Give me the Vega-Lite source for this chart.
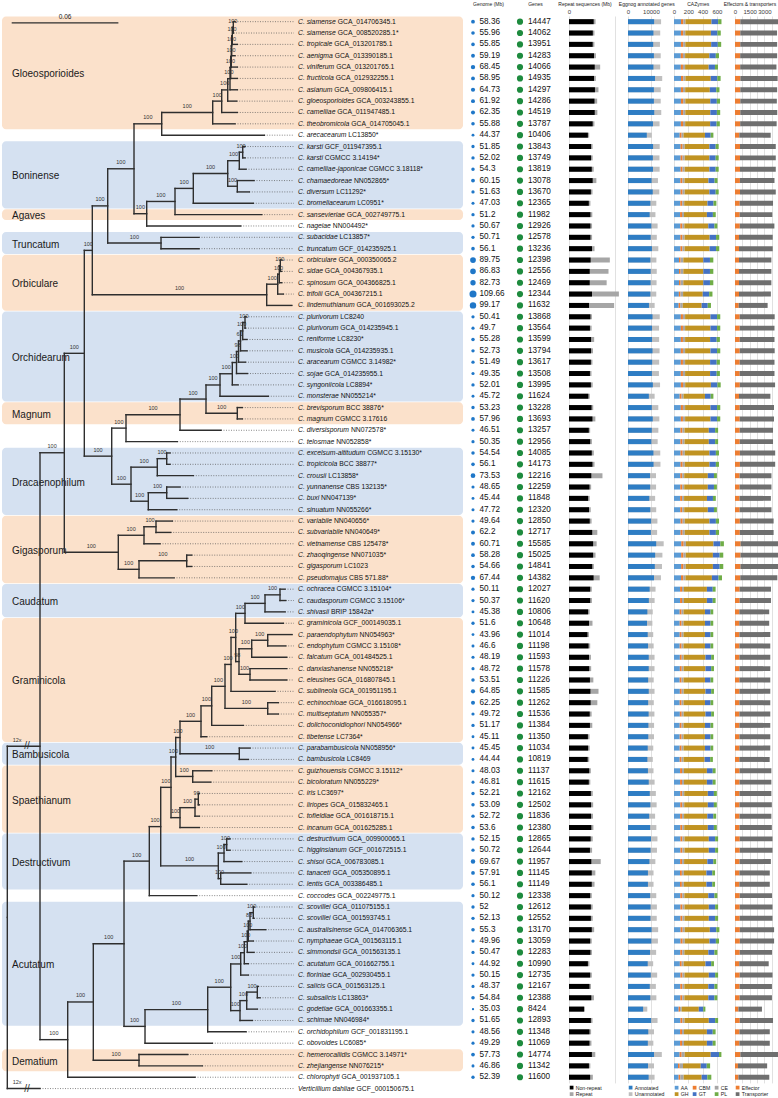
{
"$schema":"https://vega.github.io/schema/vega-lite/v6.json",
"padding":{"left":0,"top":1,"right":0,"bottom":0},
"background":"white",
"config":{"view":{"stroke":null},"font":"Liberation Sans",
"axis":{"domain":false,"ticks":false,"grid":true,"gridColor":"#D9D9D9","gridWidth":0.8,"labelFontSize":6,"labelColor":"#404040","labelPadding":1.5,"titleFontSize":5,"titleFontWeight":"normal","titleColor":"#222222","titlePadding":1.8,"labelOverlap":false,"labelFlush":false},
"legend":{"symbolType":"square","symbolSize":14,"labelFontSize":5.2,"offset":2,"padding":0,"rowPadding":0.5,"columnPadding":3,"labelOffset":1.5,"symbolStrokeWidth":0,"labelColor":"#222222"}},
"datasets":{
"clades":[
{"name":"Gloeosporioides","first":1,"last":10,"tone":"o"},
{"name":"Boninense","first":12,"last":17,"tone":"b"},
{"name":"Agaves","first":18,"last":18,"tone":"o"},
{"name":"Truncatum","first":20,"last":21,"tone":"b"},
{"name":"Orbiculare","first":22,"last":26,"tone":"o"},
{"name":"Orchidearum","first":27,"last":34,"tone":"b"},
{"name":"Magnum","first":35,"last":36,"tone":"o"},
{"name":"Dracaenophilum","first":39,"last":44,"tone":"b"},
{"name":"Gigasporum","first":45,"last":50,"tone":"o"},
{"name":"Caudatum","first":51,"last":53,"tone":"b"},
{"name":"Graminicola","first":54,"last":64,"tone":"o"},
{"name":"Bambusicola","first":65,"last":66,"tone":"b"},
{"name":"Spaethianum","first":67,"last":72,"tone":"o"},
{"name":"Destructivum","first":73,"last":77,"tone":"b"},
{"name":"Acutatum","first":79,"last":89,"tone":"b"},
{"name":"Dematium","first":92,"last":93,"tone":"o"}],
"tree":[
{"id":"root","x":0,"px":0,"y":79.92,"lo":64.84,"hi":95},
{"id":"N40","x":18.39,"px":0,"y":64.84,"lo":38.98,"hi":90.69},
{"id":"t95","x":18.39,"px":0,"y":95},
{"id":"N64","x":32.06,"px":18.39,"y":38.98,"lo":30.22,"hi":47.75,"bs":100},
{"id":"N67","x":33.97,"px":18.39,"y":90.69,"lo":87.37,"hi":94,"bs":100},
{"id":"N84","x":43.31,"px":32.06,"y":30.22,"lo":21.15,"hi":39.28,"bs":100},
{"id":"Ng5","x":62.43,"px":32.06,"y":47.75,"lo":46.25,"hi":49.25,"bs":100},
{"id":"N92","x":47.81,"px":43.31,"y":21.15,"lo":17.23,"hi":25.06,"bs":100},
{"id":"N111b","x":58.72,"px":43.31,"y":39.28,"lo":36.81,"hi":41.75,"bs":100},
{"id":"N107","x":56.47,"px":47.81,"y":17.23,"lo":13.96,"hi":20.5,"bs":100},
{"id":"No4","x":145.89,"px":47.81,"y":25.06,"lo":24.13,"hi":26,"bs":100},
{"id":"N134","x":71.26,"px":56.47,"y":13.96,"lo":10.0,"hi":17.92,"bs":100},
{"id":"Nt","x":86.45,"px":56.47,"y":20.5,"lo":20,"hi":21,"bs":100},
{"id":"N111","x":86.84,"px":71.26,"y":10.0,"lo":9.0,"hi":11,"bs":100},
{"id":"Nb7","x":78.40,"px":71.26,"y":17.92,"lo":16.84,"hi":19,"bs":100},
{"id":"N110","x":115.52,"px":86.84,"y":9.0,"lo":8.0,"hi":10,"bs":100},
{"id":"t11","x":144.54,"px":86.84,"y":11},
{"id":"N19","x":120.58,"px":115.52,"y":8.0,"lo":7.01,"hi":9,"bs":100},
{"id":"t10","x":128.06,"px":115.52,"y":10},
{"id":"N18","x":123.96,"px":120.58,"y":7.01,"lo":6.02,"hi":8,"bs":100},
{"id":"t9","x":129.36,"px":120.58,"y":9},
{"id":"N17","x":125.25,"px":123.96,"y":6.02,"lo":5.03,"hi":7,"bs":100},
{"id":"t8","x":129.02,"px":123.96,"y":8},
{"id":"N16","x":125.65,"px":125.25,"y":5.03,"lo":4.06,"hi":6,"bs":100},
{"id":"t7","x":129.36,"px":125.25,"y":7},
{"id":"N15","x":125.98,"px":125.65,"y":4.06,"lo":3.13,"hi":5,"bs":100},
{"id":"t6","x":129.36,"px":125.65,"y":6},
{"id":"N14","x":126.21,"px":125.98,"y":3.13,"lo":2.25,"hi":4,"bs":100},
{"id":"t5","x":129.36,"px":125.98,"y":5},
{"id":"N13","x":126.55,"px":126.21,"y":2.25,"lo":1.5,"hi":3,"bs":100},
{"id":"t4","x":128.06,"px":126.21,"y":4},
{"id":"N12","x":127.11,"px":126.55,"y":1.5,"lo":1,"hi":2,"bs":100},
{"id":"t3","x":129.36,"px":126.55,"y":3},
{"id":"t1","x":128.06,"px":127.11,"y":1},
{"id":"t2","x":127.22,"px":127.11,"y":2},
{"id":"Nb6","x":94.32,"px":78.40,"y":16.84,"lo":15.69,"hi":18,"bs":100},
{"id":"t19","x":131.27,"px":78.40,"y":19},
{"id":"Nb5","x":104.61,"px":94.32,"y":15.69,"lo":14.38,"hi":17,"bs":100},
{"id":"t18","x":143.08,"px":94.32,"y":18},
{"id":"Nb4","x":123.96,"px":104.61,"y":14.38,"lo":13.25,"hi":15.5,"bs":100},
{"id":"t17","x":138.36,"px":104.61,"y":17},
{"id":"Nb2","x":130.48,"px":123.96,"y":13.25,"lo":12.5,"hi":14,"bs":100},
{"id":"Nb3","x":129.36,"px":123.96,"y":15.5,"lo":15,"hi":16,"bs":100},
{"id":"Nb1","x":132.40,"px":130.48,"y":12.5,"lo":12,"hi":13,"bs":100},
{"id":"t14","x":134.25,"px":130.48,"y":14},
{"id":"t12","x":133.69,"px":132.40,"y":12},
{"id":"t13","x":133.69,"px":132.40,"y":13},
{"id":"t15","x":138.75,"px":129.36,"y":15},
{"id":"t16","x":136.11,"px":129.36,"y":16},
{"id":"t20","x":107.82,"px":86.45,"y":20},
{"id":"t21","x":107.82,"px":86.45,"y":21},
{"id":"No3","x":152.08,"px":145.89,"y":24.13,"lo":23.25,"hi":25,"bs":100},
{"id":"t26","x":159.96,"px":145.89,"y":26},
{"id":"No2","x":152.98,"px":152.08,"y":23.25,"lo":22.5,"hi":24,"bs":100},
{"id":"t25","x":155.23,"px":152.08,"y":25},
{"id":"No1","x":153.54,"px":152.98,"y":22.5,"lo":22,"hi":23,"bs":100},
{"id":"t24","x":154.33,"px":152.98,"y":24},
{"id":"t22","x":154.33,"px":153.54,"y":22},
{"id":"t23","x":154.33,"px":153.54,"y":23},
{"id":"N126","x":66.76,"px":58.72,"y":36.81,"lo":35.63,"hi":38,"bs":100},
{"id":"N131","x":69.57,"px":58.72,"y":41.75,"lo":40.25,"hi":43.25,"bs":100},
{"id":"N180","x":97.13,"px":66.76,"y":35.63,"lo":34.25,"hi":37,"bs":100},
{"id":"t38","x":95.61,"px":66.76,"y":38},
{"id":"N206","x":111.75,"px":97.13,"y":34.25,"lo":33.01,"hi":35.5,"bs":100},
{"id":"t37","x":120.19,"px":97.13,"y":37},
{"id":"Or7","x":119.63,"px":111.75,"y":33.01,"lo":32.02,"hi":34,"bs":100},
{"id":"Nm","x":129.36,"px":111.75,"y":35.5,"lo":35,"hi":36,"bs":100},
{"id":"t35","x":132.17,"px":129.36,"y":35},
{"id":"t36","x":132.17,"px":129.36,"y":36},
{"id":"Or6","x":126.55,"px":119.63,"y":32.02,"lo":31.03,"hi":33,"bs":100},
{"id":"t34","x":146.79,"px":119.63,"y":34},
{"id":"Or5","x":128.91,"px":126.55,"y":31.03,"lo":30.06,"hi":32,"bs":100},
{"id":"t33","x":129.75,"px":126.55,"y":33},
{"id":"Or4","x":130.03,"px":128.91,"y":30.06,"lo":29.13,"hi":31,"bs":98},
{"id":"t32","x":135.10,"px":128.91,"y":32},
{"id":"Or3","x":131.16,"px":130.03,"y":29.13,"lo":28.25,"hi":30,"bs":61},
{"id":"t31","x":133.97,"px":130.03,"y":31},
{"id":"Or2","x":132.40,"px":131.16,"y":28.25,"lo":27.5,"hi":29,"bs":100},
{"id":"t30","x":134.81,"px":131.16,"y":30},
{"id":"Or1","x":133.69,"px":132.40,"y":27.5,"lo":27,"hi":28,"bs":100},
{"id":"t29","x":134.81,"px":132.40,"y":29},
{"id":"t27","x":134.25,"px":133.69,"y":27},
{"id":"t28","x":133.97,"px":133.69,"y":28},
{"id":"Nd2","x":84.36,"px":69.57,"y":40.25,"lo":39.5,"hi":41,"bs":100},
{"id":"Nd4","x":79.30,"px":69.57,"y":43.25,"lo":42.5,"hi":44,"bs":100},
{"id":"Nd1","x":89.65,"px":84.36,"y":39.5,"lo":39,"hi":40,"bs":100},
{"id":"t41","x":104.61,"px":84.36,"y":41},
{"id":"t39","x":91.51,"px":89.65,"y":39},
{"id":"t40","x":91.51,"px":89.65,"y":40},
{"id":"Nd3","x":89.65,"px":79.30,"y":42.5,"lo":42,"hi":43,"bs":100},
{"id":"t44","x":95.28,"px":79.30,"y":44},
{"id":"t42","x":97.13,"px":89.65,"y":42},
{"id":"t43","x":101.46,"px":89.65,"y":43},
{"id":"Ng2","x":76.88,"px":62.43,"y":46.25,"lo":45.5,"hi":47,"bs":100},
{"id":"Ng4","x":74.07,"px":62.43,"y":49.25,"lo":48.5,"hi":50,"bs":100},
{"id":"Ng1","x":83.63,"px":76.88,"y":45.5,"lo":45,"hi":46,"bs":100},
{"id":"t47","x":85.88,"px":76.88,"y":47},
{"id":"t45","x":92.80,"px":83.63,"y":45},
{"id":"t46","x":91.90,"px":83.63,"y":46},
{"id":"Ng3","x":100.90,"px":74.07,"y":48.5,"lo":48,"hi":49,"bs":100},
{"id":"t50","x":93.76,"px":74.07,"y":50},
{"id":"t48","x":103.71,"px":100.90,"y":48},
{"id":"t49","x":103.71,"px":100.90,"y":49},
{"id":"N93","x":48.37,"px":33.97,"y":87.37,"lo":82.24,"hi":92.5,"bs":100},
{"id":"t94","x":105.57,"px":33.97,"y":94},
{"id":"N124","x":65.64,"px":48.37,"y":82.24,"lo":74.96,"hi":89.52,"bs":100},
{"id":"Ndm","x":74.07,"px":48.37,"y":92.5,"lo":92,"hi":93,"bs":100},
{"id":"t92","x":101.46,"px":74.07,"y":92},
{"id":"t93","x":109.67,"px":74.07,"y":93},
{"id":"N149","x":79.87,"px":65.64,"y":74.96,"lo":71.92,"hi":78,"bs":100},
{"id":"N145","x":77.45,"px":65.64,"y":89.52,"lo":88.04,"hi":91,"bs":100},
{"id":"N160","x":86.28,"px":79.87,"y":71.92,"lo":68.46,"hi":75.38,"bs":100},
{"id":"t78","x":106.52,"px":79.87,"y":78},
{"id":"N513","x":92.07,"px":86.28,"y":68.46,"lo":65.79,"hi":71.13,"bs":100},
{"id":"Nde4","x":118.67,"px":86.28,"y":75.38,"lo":74.25,"hi":76.5,"bs":100},
{"id":"N527","x":94.71,"px":92.07,"y":65.79,"lo":64.07,"hi":67.5,"bs":100},
{"id":"Ns4","x":97.13,"px":92.07,"y":71.13,"lo":70.25,"hi":72,"bs":100},
{"id":"N540","x":97.13,"px":94.71,"y":64.07,"lo":62.64,"hi":65.5,"bs":100},
{"id":"Ns1","x":104.27,"px":94.71,"y":67.5,"lo":67,"hi":68,"bs":100},
{"id":"t67","x":114.96,"px":104.27,"y":67},
{"id":"t68","x":114.40,"px":104.27,"y":68},
{"id":"Ns3","x":105.57,"px":97.13,"y":70.25,"lo":69.5,"hi":71,"bs":100},
{"id":"t72","x":107.99,"px":97.13,"y":72},
{"id":"Ns2","x":107.42,"px":105.57,"y":69.5,"lo":69,"hi":70,"bs":99},
{"id":"t71","x":107.99,"px":105.57,"y":71},
{"id":"t69","x":107.99,"px":107.42,"y":69},
{"id":"t70","x":107.99,"px":107.42,"y":70},
{"id":"N603","x":108.94,"px":97.13,"y":62.64,"lo":61.28,"hi":64,"bs":100},
{"id":"Nbam","x":130.48,"px":97.13,"y":65.5,"lo":65,"hi":66,"bs":100},
{"id":"t65","x":136.50,"px":130.48,"y":65},
{"id":"t66","x":135.55,"px":130.48,"y":66},
{"id":"N635","x":114.96,"px":108.94,"y":61.28,"lo":59.56,"hi":63,"bs":100},
{"id":"t64","x":112.15,"px":108.94,"y":64},
{"id":"N675","x":122.44,"px":114.96,"y":59.56,"lo":57.63,"hi":61.5,"bs":100},
{"id":"t63","x":132.73,"px":114.96,"y":63},
{"id":"N693","x":125.82,"px":122.44,"y":57.63,"lo":55.25,"hi":60,"bs":100},
{"id":"Nh","x":146.46,"px":122.44,"y":61.5,"lo":61,"hi":62,"bs":100},
{"id":"t61","x":152.42,"px":146.46,"y":61},
{"id":"t62","x":152.42,"px":146.46,"y":62},
{"id":"N707","x":128.46,"px":125.82,"y":55.25,"lo":53.13,"hi":57.38,"bs":100},
{"id":"t60","x":150.56,"px":125.82,"y":60},
{"id":"C","x":133.69,"px":128.46,"y":53.13,"lo":52.25,"hi":54,"bs":100},
{"id":"G","x":130.31,"px":128.46,"y":57.38,"lo":56.25,"hi":58.5,"bs":98},
{"id":"B","x":144.94,"px":133.69,"y":52.25,"lo":51.5,"hi":53,"bs":100},
{"id":"t54","x":155.23,"px":133.69,"y":54},
{"id":"A","x":153.37,"px":144.94,"y":51.5,"lo":51,"hi":52,"bs":100},
{"id":"t53","x":156.19,"px":144.94,"y":53},
{"id":"t51","x":156.19,"px":153.37,"y":51},
{"id":"t52","x":156.58,"px":153.37,"y":52},
{"id":"E","x":137.46,"px":130.31,"y":56.25,"lo":55.5,"hi":57,"bs":100},
{"id":"F","x":136.50,"px":130.31,"y":58.5,"lo":58,"hi":59,"bs":100},
{"id":"D","x":146.46,"px":137.46,"y":55.5,"lo":55,"hi":56,"bs":100},
{"id":"t57","x":157.14,"px":137.46,"y":57},
{"id":"t55","x":160.12,"px":146.46,"y":55},
{"id":"t56","x":156.58,"px":146.46,"y":56},
{"id":"t58","x":157.14,"px":136.50,"y":58},
{"id":"t59","x":157.14,"px":136.50,"y":59},
{"id":"Nde2","x":121.88,"px":118.67,"y":74.25,"lo":73.5,"hi":75,"bs":100},
{"id":"Nde3","x":120.02,"px":118.67,"y":76.5,"lo":76,"hi":77,"bs":100},
{"id":"Nde1","x":123.40,"px":121.88,"y":73.5,"lo":73,"hi":74,"bs":100},
{"id":"t75","x":131.83,"px":121.88,"y":75},
{"id":"t73","x":125.25,"px":123.40,"y":73},
{"id":"t74","x":125.25,"px":123.40,"y":74},
{"id":"t76","x":136.90,"px":120.02,"y":76},
{"id":"t77","x":134.65,"px":120.02,"y":77},
{"id":"N207","x":112.71,"px":77.45,"y":88.04,"lo":86.07,"hi":90,"bs":100},
{"id":"t91","x":115.30,"px":77.45,"y":91},
{"id":"Na10","x":125.65,"px":112.71,"y":86.07,"lo":84.02,"hi":88.13,"bs":100},
{"id":"t90","x":134.25,"px":112.71,"y":90},
{"id":"Na6","x":131.27,"px":125.65,"y":84.02,"lo":83.03,"hi":85,"bs":100},
{"id":"Na9","x":130.88,"px":125.65,"y":88.13,"lo":87.25,"hi":89,"bs":100},
{"id":"Na5","x":133.30,"px":131.27,"y":83.03,"lo":82.06,"hi":84,"bs":100},
{"id":"t85","x":135.55,"px":131.27,"y":85},
{"id":"Na4","x":134.98,"px":133.30,"y":82.06,"lo":81.13,"hi":83,"bs":100},
{"id":"t84","x":135.55,"px":133.30,"y":84},
{"id":"Na3","x":135.55,"px":134.98,"y":81.13,"lo":80.25,"hi":82,"bs":100},
{"id":"t83","x":138.75,"px":134.98,"y":83},
{"id":"Na2","x":136.50,"px":135.55,"y":80.25,"lo":79.5,"hi":81,"bs":83},
{"id":"t82","x":138.36,"px":135.55,"y":82},
{"id":"Na1","x":138.36,"px":136.50,"y":79.5,"lo":79,"hi":80,"bs":100},
{"id":"t81","x":145.33,"px":136.50,"y":81},
{"id":"t79","x":138.75,"px":138.36,"y":79},
{"id":"t80","x":138.75,"px":138.36,"y":80},
{"id":"Na8","x":134.65,"px":130.88,"y":87.25,"lo":86.5,"hi":88,"bs":100},
{"id":"t89","x":137.80,"px":130.88,"y":89},
{"id":"Na7","x":140.61,"px":134.65,"y":86.5,"lo":86,"hi":87,"bs":100},
{"id":"t88","x":140.61,"px":134.65,"y":88},
{"id":"t86","x":141.17,"px":140.61,"y":86},
{"id":"t87","x":142.13,"px":140.61,"y":87}],
"taxa":[
{"i":1,"sp":"C. siamense","st":"GCA_014706345.1","g":58.36,"n":14447,"nr":54.2,"ann":11400,"AA":98,"CBM":32,"CE":30,"GH":364,"GT":93,"PL":47,"Effector":540,"Transporter":3850},
{"i":2,"sp":"C. siamense","st":"GCA_008520285.1*","g":55.96,"n":14062,"nr":52.3,"ann":11100,"AA":97,"CBM":31,"CE":30,"GH":358,"GT":92,"PL":46,"Effector":540,"Transporter":3750},
{"i":3,"sp":"C. tropicale","st":"GCA_013201785.1","g":55.85,"n":13951,"nr":52.0,"ann":11000,"AA":97,"CBM":31,"CE":30,"GH":362,"GT":93,"PL":47,"Effector":540,"Transporter":3760},
{"i":4,"sp":"C. aenigma","st":"GCA_013390185.1","g":59.19,"n":14283,"nr":55.0,"ann":11300,"AA":95,"CBM":30,"CE":30,"GH":340,"GT":90,"PL":44,"Effector":530,"Transporter":3770},
{"i":5,"sp":"C. viniferum","st":"GCA_013201765.1","g":68.45,"n":14066,"nr":56.5,"ann":11100,"AA":95,"CBM":30,"CE":30,"GH":330,"GT":88,"PL":42,"Effector":530,"Transporter":3700},
{"i":6,"sp":"C. fructicola","st":"GCA_012932255.1","g":58.95,"n":14935,"nr":55.0,"ann":11800,"AA":98,"CBM":31,"CE":30,"GH":355,"GT":92,"PL":46,"Effector":550,"Transporter":3800},
{"i":7,"sp":"C. asianum","st":"GCA_009806415.1","g":64.73,"n":14297,"nr":57.0,"ann":11300,"AA":96,"CBM":30,"CE":30,"GH":345,"GT":90,"PL":45,"Effector":540,"Transporter":3760},
{"i":8,"sp":"C. gloeosporioides","st":"GCA_003243855.1","g":61.92,"n":14286,"nr":56.0,"ann":11300,"AA":97,"CBM":31,"CE":30,"GH":350,"GT":91,"PL":45,"Effector":540,"Transporter":3730},
{"i":9,"sp":"C. camelliae","st":"GCA_011947485.1","g":62.35,"n":14519,"nr":56.5,"ann":11450,"AA":97,"CBM":31,"CE":30,"GH":350,"GT":92,"PL":46,"Effector":540,"Transporter":3770},
{"i":10,"sp":"C. theobromicola","st":"GCA_014705045.1","g":55.88,"n":13787,"nr":52.0,"ann":10900,"AA":96,"CBM":30,"CE":30,"GH":350,"GT":90,"PL":45,"Effector":530,"Transporter":3720},
{"i":11,"sp":"C. arecacearum","st":"LC13850*","g":44.37,"n":10406,"nr":41.5,"ann":8200,"AA":80,"CBM":26,"CE":27,"GH":300,"GT":80,"PL":38,"Effector":440,"Transporter":3200},
{"i":12,"sp":"C. karsti","st":"GCF_011947395.1","g":51.85,"n":13843,"nr":48.5,"ann":10950,"AA":92,"CBM":28,"CE":30,"GH":345,"GT":88,"PL":42,"Effector":510,"Transporter":3650},
{"i":13,"sp":"C. karsti","st":"CGMCC 3.14194*","g":52.02,"n":13749,"nr":48.5,"ann":10850,"AA":92,"CBM":28,"CE":30,"GH":345,"GT":88,"PL":42,"Effector":510,"Transporter":3650},
{"i":14,"sp":"C. camelliae-japonicae","st":"CGMCC 3.18118*","g":54.3,"n":13819,"nr":50.0,"ann":10900,"AA":92,"CBM":28,"CE":30,"GH":345,"GT":88,"PL":42,"Effector":510,"Transporter":3650},
{"i":15,"sp":"C. chamaedoreae","st":"NN052865*","g":60.15,"n":13078,"nr":52.0,"ann":10300,"AA":90,"CBM":28,"CE":29,"GH":335,"GT":86,"PL":41,"Effector":500,"Transporter":3530},
{"i":16,"sp":"C. diversum","st":"LC11292*","g":51.63,"n":13670,"nr":48.0,"ann":10800,"AA":92,"CBM":28,"CE":30,"GH":345,"GT":88,"PL":42,"Effector":510,"Transporter":3650},
{"i":17,"sp":"C. bromeliacearum","st":"LC0951*","g":47.03,"n":12365,"nr":43.5,"ann":9750,"AA":88,"CBM":27,"CE":28,"GH":325,"GT":85,"PL":40,"Effector":480,"Transporter":3400},
{"i":18,"sp":"C. sansevieriae","st":"GCA_002749775.1","g":51.2,"n":11982,"nr":47.0,"ann":9450,"AA":85,"CBM":27,"CE":28,"GH":320,"GT":84,"PL":40,"Effector":480,"Transporter":3330},
{"i":19,"sp":"C. nageiae","st":"NN004492*","g":50.67,"n":12926,"nr":47.0,"ann":10200,"AA":88,"CBM":28,"CE":29,"GH":335,"GT":86,"PL":41,"Effector":490,"Transporter":3530},
{"i":20,"sp":"C. subacidae","st":"LC13857*","g":50.71,"n":12578,"nr":47.0,"ann":9900,"AA":90,"CBM":28,"CE":30,"GH":350,"GT":90,"PL":45,"Effector":410,"Transporter":3440},
{"i":21,"sp":"C. truncatum","st":"GCF_014235925.1","g":56.1,"n":13236,"nr":50.5,"ann":10450,"AA":90,"CBM":28,"CE":30,"GH":350,"GT":90,"PL":45,"Effector":410,"Transporter":3440},
{"i":22,"sp":"C. orbiculare","st":"GCA_000350065.2","g":89.75,"n":12398,"nr":47.5,"ann":9750,"AA":70,"CBM":23,"CE":37,"GH":280,"GT":93,"PL":47,"Effector":410,"Transporter":3300},
{"i":23,"sp":"C. sidae","st":"GCA_004367935.1","g":86.83,"n":12556,"nr":45.5,"ann":9900,"AA":70,"CBM":23,"CE":37,"GH":280,"GT":93,"PL":47,"Effector":410,"Transporter":3300},
{"i":24,"sp":"C. spinosum","st":"GCA_004366825.1","g":82.73,"n":12469,"nr":45.5,"ann":9850,"AA":70,"CBM":23,"CE":37,"GH":280,"GT":93,"PL":47,"Effector":410,"Transporter":3300},
{"i":25,"sp":"C. trifolii","st":"GCA_004367215.1","g":109.66,"n":12344,"nr":50.5,"ann":9750,"AA":68,"CBM":23,"CE":36,"GH":275,"GT":90,"PL":46,"Effector":410,"Transporter":3250},
{"i":26,"sp":"C. lindemuthianum","st":"GCA_001693025.2","g":99.17,"n":11632,"nr":44.0,"ann":9150,"AA":65,"CBM":22,"CE":35,"GH":265,"GT":85,"PL":45,"Effector":380,"Transporter":2950},
{"i":27,"sp":"C. plurivorum","st":"LC8240","g":50.41,"n":13868,"nr":47.0,"ann":10700,"AA":95,"CBM":30,"CE":30,"GH":355,"GT":92,"PL":45,"Effector":480,"Transporter":3570},
{"i":28,"sp":"C. plurivorum","st":"GCA_014235945.1","g":49.7,"n":13564,"nr":46.0,"ann":10500,"AA":95,"CBM":30,"CE":30,"GH":355,"GT":92,"PL":45,"Effector":480,"Transporter":3550},
{"i":29,"sp":"C. reniforme","st":"LC8230*","g":55.28,"n":13599,"nr":48.5,"ann":10500,"AA":95,"CBM":30,"CE":30,"GH":350,"GT":92,"PL":45,"Effector":480,"Transporter":3550},
{"i":30,"sp":"C. musicola","st":"GCA_014235935.1","g":52.73,"n":13794,"nr":48.5,"ann":10700,"AA":95,"CBM":30,"CE":30,"GH":355,"GT":92,"PL":45,"Effector":480,"Transporter":3570},
{"i":31,"sp":"C. aracearum","st":"CGMCC 3.14982*","g":51.49,"n":13617,"nr":48.0,"ann":10550,"AA":95,"CBM":30,"CE":30,"GH":350,"GT":92,"PL":45,"Effector":480,"Transporter":3550},
{"i":32,"sp":"C. sojae","st":"GCA_014235955.1","g":49.35,"n":13508,"nr":46.0,"ann":10450,"AA":95,"CBM":30,"CE":30,"GH":350,"GT":92,"PL":45,"Effector":480,"Transporter":3550},
{"i":33,"sp":"C. syngoniicola","st":"LC8894*","g":52.01,"n":13995,"nr":48.0,"ann":10850,"AA":96,"CBM":30,"CE":30,"GH":360,"GT":92,"PL":45,"Effector":490,"Transporter":3600},
{"i":34,"sp":"C. monsterae","st":"NN055214*","g":45.72,"n":11624,"nr":42.5,"ann":9100,"AA":80,"CBM":26,"CE":27,"GH":300,"GT":80,"PL":38,"Effector":410,"Transporter":3200},
{"i":35,"sp":"C. brevisporum","st":"BCC 38876*","g":53.23,"n":13228,"nr":49.5,"ann":10400,"AA":95,"CBM":30,"CE":30,"GH":355,"GT":92,"PL":45,"Effector":480,"Transporter":3500},
{"i":36,"sp":"C. magnum","st":"CGMCC 3.17616","g":57.96,"n":13693,"nr":51.5,"ann":10800,"AA":95,"CBM":30,"CE":30,"GH":355,"GT":92,"PL":45,"Effector":480,"Transporter":3500},
{"i":37,"sp":"C. diversisporum","st":"NN072578*","g":46.51,"n":13257,"nr":43.5,"ann":10400,"AA":90,"CBM":28,"CE":29,"GH":340,"GT":88,"PL":42,"Effector":480,"Transporter":3400},
{"i":38,"sp":"C. telosmae","st":"NN052858*","g":50.35,"n":12956,"nr":46.5,"ann":10200,"AA":90,"CBM":28,"CE":29,"GH":340,"GT":88,"PL":42,"Effector":480,"Transporter":3400},
{"i":39,"sp":"C. excelsum-altitudum","st":"CGMCC 3.15130*","g":54.54,"n":14085,"nr":50.0,"ann":11100,"AA":92,"CBM":29,"CE":30,"GH":345,"GT":90,"PL":43,"Effector":500,"Transporter":3600},
{"i":40,"sp":"C. tropicicola","st":"BCC 38877*","g":56.1,"n":14173,"nr":51.5,"ann":11150,"AA":92,"CBM":29,"CE":30,"GH":345,"GT":90,"PL":43,"Effector":500,"Transporter":3600},
{"i":41,"sp":"C. crousii","st":"LC13858*","g":73.53,"n":12216,"nr":49.0,"ann":9600,"AA":88,"CBM":27,"CE":28,"GH":330,"GT":86,"PL":41,"Effector":470,"Transporter":3250},
{"i":42,"sp":"C. yunnanense","st":"CBS 132135*","g":48.65,"n":12259,"nr":45.0,"ann":9650,"AA":88,"CBM":27,"CE":28,"GH":330,"GT":86,"PL":41,"Effector":470,"Transporter":3250},
{"i":43,"sp":"C. buxi","st":"NN047139*","g":45.44,"n":11848,"nr":42.0,"ann":9300,"AA":86,"CBM":27,"CE":28,"GH":320,"GT":84,"PL":40,"Effector":460,"Transporter":3200},
{"i":44,"sp":"C. sinuatum","st":"NN055266*","g":47.72,"n":12320,"nr":44.0,"ann":9700,"AA":88,"CBM":27,"CE":28,"GH":330,"GT":86,"PL":41,"Effector":470,"Transporter":3250},
{"i":45,"sp":"C. variabile","st":"NN040656*","g":49.64,"n":12850,"nr":45.5,"ann":10100,"AA":92,"CBM":29,"CE":30,"GH":345,"GT":90,"PL":44,"Effector":490,"Transporter":3450},
{"i":46,"sp":"C. subvariabile","st":"NN040649*","g":62.2,"n":12717,"nr":51.0,"ann":10000,"AA":92,"CBM":29,"CE":30,"GH":345,"GT":90,"PL":44,"Effector":490,"Transporter":3450},
{"i":47,"sp":"C. vietnamense","st":"CBS 125478*","g":60.71,"n":15585,"nr":53.0,"ann":12300,"AA":102,"CBM":33,"CE":32,"GH":385,"GT":96,"PL":50,"Effector":570,"Transporter":3900},
{"i":48,"sp":"C. zhaoqingense","st":"NN071035*","g":58.28,"n":15025,"nr":53.0,"ann":11850,"AA":100,"CBM":32,"CE":32,"GH":380,"GT":95,"PL":50,"Effector":560,"Transporter":3850},
{"i":49,"sp":"C. gigasporum","st":"LC1023","g":54.66,"n":14841,"nr":51.0,"ann":11700,"AA":100,"CBM":32,"CE":32,"GH":380,"GT":95,"PL":50,"Effector":560,"Transporter":3850},
{"i":50,"sp":"C. pseudomajus","st":"CBS 571.88*","g":67.44,"n":14382,"nr":54.0,"ann":11350,"AA":98,"CBM":31,"CE":31,"GH":370,"GT":93,"PL":48,"Effector":540,"Transporter":3780},
{"i":51,"sp":"C. ochracea","st":"CGMCC 3.15104*","g":50.11,"n":12027,"nr":46.5,"ann":9450,"AA":85,"CBM":27,"CE":28,"GH":320,"GT":82,"PL":40,"Effector":470,"Transporter":3200},
{"i":52,"sp":"C. caudasporum","st":"CGMCC 3.15106*","g":50.37,"n":11620,"nr":46.5,"ann":9100,"AA":85,"CBM":27,"CE":28,"GH":320,"GT":82,"PL":40,"Effector":470,"Transporter":3200},
{"i":53,"sp":"C. shivasii","st":"BRIP 15842a*","g":45.38,"n":10806,"nr":42.0,"ann":8450,"AA":80,"CBM":26,"CE":27,"GH":300,"GT":78,"PL":38,"Effector":440,"Transporter":3050},
{"i":54,"sp":"C. graminicola","st":"GCF_000149035.1","g":51.6,"n":10648,"nr":44.0,"ann":8300,"AA":80,"CBM":26,"CE":27,"GH":300,"GT":78,"PL":38,"Effector":440,"Transporter":3050},
{"i":55,"sp":"C. paraendophytum","st":"NN054963*","g":43.96,"n":11014,"nr":40.5,"ann":8600,"AA":80,"CBM":26,"CE":27,"GH":300,"GT":78,"PL":38,"Effector":450,"Transporter":3150},
{"i":56,"sp":"C. endophytum","st":"CGMCC 3.15108*","g":46.6,"n":11198,"nr":43.0,"ann":8750,"AA":80,"CBM":26,"CE":27,"GH":300,"GT":78,"PL":38,"Effector":450,"Transporter":3150},
{"i":57,"sp":"C. falcatum","st":"GCA_001484525.1","g":48.19,"n":11593,"nr":44.0,"ann":9050,"AA":82,"CBM":26,"CE":27,"GH":305,"GT":80,"PL":39,"Effector":450,"Transporter":3150},
{"i":58,"sp":"C. danxiashanense","st":"NN055218*","g":48.72,"n":11578,"nr":44.5,"ann":9050,"AA":82,"CBM":26,"CE":27,"GH":305,"GT":80,"PL":39,"Effector":450,"Transporter":3150},
{"i":59,"sp":"C. eleusines","st":"GCA_016807845.1","g":53.51,"n":11226,"nr":46.0,"ann":8800,"AA":80,"CBM":26,"CE":27,"GH":300,"GT":78,"PL":38,"Effector":450,"Transporter":3150},
{"i":60,"sp":"C. sublineola","st":"GCA_001951195.1","g":64.85,"n":11585,"nr":47.0,"ann":9050,"AA":82,"CBM":26,"CE":27,"GH":305,"GT":80,"PL":39,"Effector":450,"Transporter":3150},
{"i":61,"sp":"C. echinochloae","st":"GCA_016618095.1","g":62.25,"n":11262,"nr":47.5,"ann":8800,"AA":80,"CBM":26,"CE":27,"GH":300,"GT":78,"PL":38,"Effector":450,"Transporter":3150},
{"i":62,"sp":"C. multiseptatum","st":"NN055357*","g":49.72,"n":11536,"nr":45.5,"ann":9000,"AA":82,"CBM":26,"CE":27,"GH":305,"GT":80,"PL":39,"Effector":450,"Transporter":3150},
{"i":63,"sp":"C. dolichoconidiophori","st":"NN054966*","g":51.17,"n":11384,"nr":46.0,"ann":8900,"AA":80,"CBM":26,"CE":27,"GH":300,"GT":78,"PL":38,"Effector":450,"Transporter":3150},
{"i":64,"sp":"C. tibetense","st":"LC7364*","g":45.11,"n":11350,"nr":41.5,"ann":8850,"AA":80,"CBM":26,"CE":27,"GH":300,"GT":78,"PL":38,"Effector":450,"Transporter":3150},
{"i":65,"sp":"C. parabambusicola","st":"NN058956*","g":45.45,"n":11034,"nr":42.0,"ann":8600,"AA":80,"CBM":26,"CE":27,"GH":300,"GT":78,"PL":38,"Effector":450,"Transporter":3150},
{"i":66,"sp":"C. bambusicola","st":"LC8469","g":44.44,"n":10819,"nr":41.0,"ann":8450,"AA":80,"CBM":26,"CE":27,"GH":295,"GT":78,"PL":38,"Effector":440,"Transporter":3100},
{"i":67,"sp":"C. guizhouensis","st":"CGMCC 3.15112*","g":48.03,"n":11137,"nr":44.5,"ann":8700,"AA":85,"CBM":27,"CE":28,"GH":320,"GT":82,"PL":40,"Effector":460,"Transporter":3250},
{"i":68,"sp":"C. bicoloratum","st":"NN055229*","g":46.81,"n":11615,"nr":43.5,"ann":9050,"AA":85,"CBM":27,"CE":28,"GH":320,"GT":82,"PL":40,"Effector":460,"Transporter":3250},
{"i":69,"sp":"C. iris","st":"LC3697*","g":52.21,"n":12162,"nr":48.0,"ann":9500,"AA":88,"CBM":27,"CE":28,"GH":330,"GT":85,"PL":41,"Effector":460,"Transporter":3250},
{"i":70,"sp":"C. liriopes","st":"GCA_015832465.1","g":53.09,"n":12502,"nr":48.5,"ann":9750,"AA":88,"CBM":27,"CE":28,"GH":330,"GT":85,"PL":41,"Effector":460,"Transporter":3300},
{"i":71,"sp":"C. tofieldiae","st":"GCA_001618715.1","g":52.72,"n":11836,"nr":48.5,"ann":9250,"AA":86,"CBM":27,"CE":28,"GH":325,"GT":84,"PL":40,"Effector":460,"Transporter":3250},
{"i":72,"sp":"C. incanum","st":"GCA_001625285.1","g":53.6,"n":12380,"nr":49.0,"ann":9650,"AA":88,"CBM":27,"CE":28,"GH":330,"GT":85,"PL":41,"Effector":460,"Transporter":3300},
{"i":73,"sp":"C. destructivum","st":"GCA_009900065.1","g":52.15,"n":12865,"nr":47.5,"ann":10050,"AA":90,"CBM":28,"CE":29,"GH":340,"GT":88,"PL":42,"Effector":480,"Transporter":3350},
{"i":74,"sp":"C. higginsianum","st":"GCF_001672515.1","g":50.72,"n":12644,"nr":46.0,"ann":9850,"AA":90,"CBM":28,"CE":29,"GH":340,"GT":88,"PL":42,"Effector":480,"Transporter":3350},
{"i":75,"sp":"C. shisoi","st":"GCA_006783085.1","g":69.67,"n":11957,"nr":49.0,"ann":9350,"AA":86,"CBM":27,"CE":28,"GH":325,"GT":84,"PL":40,"Effector":460,"Transporter":3200},
{"i":76,"sp":"C. tanaceti","st":"GCA_005350895.1","g":57.91,"n":11145,"nr":50.0,"ann":8700,"AA":84,"CBM":26,"CE":28,"GH":315,"GT":82,"PL":39,"Effector":450,"Transporter":3100},
{"i":77,"sp":"C. lentis","st":"GCA_003386485.1","g":56.1,"n":11149,"nr":50.0,"ann":8700,"AA":84,"CBM":26,"CE":28,"GH":315,"GT":82,"PL":39,"Effector":450,"Transporter":3100},
{"i":78,"sp":"C. coccodes","st":"GCA_002249775.1","g":50.12,"n":12338,"nr":46.5,"ann":9650,"AA":88,"CBM":28,"CE":29,"GH":335,"GT":86,"PL":41,"Effector":480,"Transporter":3300},
{"i":79,"sp":"C. scovillei","st":"GCA_011075155.1","g":52,"n":12612,"nr":48.0,"ann":9850,"AA":90,"CBM":28,"CE":29,"GH":340,"GT":88,"PL":42,"Effector":480,"Transporter":3350},
{"i":80,"sp":"C. scovillei","st":"GCA_001593745.1","g":52.13,"n":12552,"nr":48.0,"ann":9800,"AA":90,"CBM":28,"CE":29,"GH":340,"GT":88,"PL":42,"Effector":480,"Transporter":3350},
{"i":81,"sp":"C. australisinense","st":"GCA_014706365.1","g":55.3,"n":13170,"nr":50.0,"ann":10300,"AA":92,"CBM":29,"CE":30,"GH":350,"GT":90,"PL":44,"Effector":490,"Transporter":3500},
{"i":82,"sp":"C. nymphaeae","st":"GCA_001563115.1","g":49.96,"n":13059,"nr":46.5,"ann":10200,"AA":92,"CBM":29,"CE":30,"GH":345,"GT":90,"PL":44,"Effector":490,"Transporter":3500},
{"i":83,"sp":"C. simmondsii","st":"GCA_001563135.1","g":50.47,"n":12283,"nr":47.0,"ann":9600,"AA":88,"CBM":28,"CE":29,"GH":335,"GT":86,"PL":41,"Effector":480,"Transporter":3300},
{"i":84,"sp":"C. acutatum","st":"GCA_001662755.1","g":44.92,"n":10990,"nr":41.5,"ann":8600,"AA":82,"CBM":26,"CE":27,"GH":305,"GT":80,"PL":39,"Effector":440,"Transporter":3000},
{"i":85,"sp":"C. fioriniae","st":"GCA_002930455.1","g":50.15,"n":12735,"nr":46.5,"ann":9950,"AA":90,"CBM":28,"CE":29,"GH":340,"GT":88,"PL":42,"Effector":480,"Transporter":3350},
{"i":86,"sp":"C. salicis","st":"GCA_001563125.1","g":48.37,"n":12167,"nr":45.0,"ann":9500,"AA":88,"CBM":28,"CE":29,"GH":335,"GT":86,"PL":41,"Effector":470,"Transporter":3300},
{"i":87,"sp":"C. subsalicis","st":"LC13863*","g":54.84,"n":12388,"nr":49.0,"ann":9700,"AA":88,"CBM":28,"CE":29,"GH":335,"GT":86,"PL":41,"Effector":470,"Transporter":3300},
{"i":88,"sp":"C. godetiae","st":"GCA_001663355.1","g":35.03,"n":8424,"nr":33.0,"ann":6600,"AA":65,"CBM":20,"CE":22,"GH":240,"GT":62,"PL":30,"Effector":350,"Transporter":2400},
{"i":89,"sp":"C. schimae","st":"NN046984*","g":51.65,"n":12893,"nr":48.0,"ann":10100,"AA":90,"CBM":28,"CE":29,"GH":340,"GT":88,"PL":42,"Effector":480,"Transporter":3400},
{"i":90,"sp":"C. orchidophilum","st":"GCF_001831195.1","g":48.56,"n":11348,"nr":45.0,"ann":8850,"AA":85,"CBM":27,"CE":28,"GH":320,"GT":82,"PL":40,"Effector":450,"Transporter":3100},
{"i":91,"sp":"C. obovoides","st":"LC6085*","g":49.29,"n":11069,"nr":45.0,"ann":8650,"AA":85,"CBM":27,"CE":28,"GH":320,"GT":82,"PL":40,"Effector":450,"Transporter":3100},
{"i":92,"sp":"C. hemerocallidis","st":"CGMCC 3.14971*","g":57.73,"n":14774,"nr":50.3,"ann":11350,"AA":79,"CBM":28,"CE":42,"GH":364,"GT":117,"PL":33,"Effector":550,"Transporter":3950},
{"i":93,"sp":"C. zhejiangense","st":"NN076215*","g":46.86,"n":11342,"nr":43.8,"ann":8730,"AA":56,"CBM":24,"CE":46,"GH":248,"GT":84,"PL":47,"Effector":300,"Transporter":2980},
{"i":94,"sp":"C. chlorophyti","st":"GCA_001937105.1","g":52.39,"n":11600,"nr":46.4,"ann":9000,"AA":65,"CBM":23,"CE":47,"GH":252,"GT":79,"PL":56,"Effector":350,"Transporter":3150},
{"i":95,"sp":"Verticillium dahliae","st":"GCF_000150675.1"}]
},
"spacing":0,
"bounds":"flush",
"resolve":{"scale":{"x":"independent","y":"independent","color":"independent","size":"independent"}},
"hconcat":[
{"width":465,"height":1078.25,
"layer":[
{"data":{"name":"clades"},"mark":{"type":"rect","cornerRadius":4,"yOffset":-5.3,"y2Offset":5.3},
"encoding":{"x":{"datum":-2.98,"type":"quantitative","scale":{"domain":[-4.11,257.42],"nice":false,"zero":false},"axis":null},"x2":{"datum":256.3},
"y":{"field":"first","type":"quantitative","scale":{"domain":[0.5,95.5],"nice":false,"zero":false,"reverse":true},"axis":null},"y2":{"field":"last"},
"color":{"field":"tone","type":"nominal","scale":{"domain":["o","b"],"range":["#FBE1CB","#D5E1F1"]},"legend":null}}},
{"data":{"name":"clades"},"transform":[{"fold":["first","last"],"as":["k","v"]},{"aggregate":[{"op":"mean","field":"v","as":"mid"}],"groupby":["name"]}],
"mark":{"type":"text","align":"left","baseline":"middle","fontSize":10,"dy":1.5,"color":"#1a1a1a"},
"encoding":{"x":{"datum":2.64,"type":"quantitative"},"y":{"field":"mid","type":"quantitative"},"text":{"field":"name"}}},
{"data":{"name":"tree"},"transform":[{"filter":"!isValid(datum.lo)"}],
"mark":{"type":"rule","strokeDash":[1,1.5],"strokeWidth":0.7,"color":"#555555"},
"encoding":{"x":{"field":"x","type":"quantitative"},"x2":{"datum":161.25},"y":{"field":"y","type":"quantitative"}}},
{"data":{"name":"tree"},"mark":{"type":"rule","strokeWidth":1.4,"color":"#2e2e2e","strokeCap":"square"},
"encoding":{"x":{"field":"px","type":"quantitative"},"x2":{"field":"x"},"y":{"field":"y","type":"quantitative"}}},
{"data":{"name":"tree"},"transform":[{"filter":"isValid(datum.lo)"}],"mark":{"type":"rule","strokeWidth":1.4,"color":"#2e2e2e","strokeCap":"square"},
"encoding":{"x":{"field":"x","type":"quantitative"},"y":{"field":"lo","type":"quantitative"},"y2":{"field":"hi"}}},
{"data":{"name":"tree"},"transform":[{"filter":"isValid(datum.bs)"},{"fold":["px","x"],"as":["k","v"]},{"aggregate":[{"op":"mean","field":"v","as":"mx"}],"groupby":["id","y","bs"]}],
"mark":{"type":"text","fontSize":5.5,"baseline":"middle","dy":-6.5,"color":"#333333"},
"encoding":{"x":{"field":"mx","type":"quantitative"},"y":{"field":"y","type":"quantitative"},"text":{"field":"bs"}}},
{"data":{"name":"tree"},"transform":[{"filter":"datum.id=='N40' || datum.id=='t95'"}],
"mark":{"type":"text","fontSize":10,"baseline":"middle","color":"#2e2e2e"},
"encoding":{"x":{"datum":11.08,"type":"quantitative"},"y":{"field":"y","type":"quantitative"},"text":{"value":"//"}}},
{"data":{"name":"tree"},"transform":[{"filter":"datum.id=='N40' || datum.id=='t95'"}],
"mark":{"type":"text","fontSize":5.5,"baseline":"middle","dy":-6.5,"color":"#333333"},
"encoding":{"x":{"datum":5.5,"type":"quantitative"},"y":{"field":"y","type":"quantitative"},"text":{"value":"12x"}}},
{"data":{"values":[{"len":0.06}]},"mark":{"type":"rule","strokeWidth":1.3,"color":"#2e2e2e"},
"encoding":{"x":{"datum":2.47,"type":"quantitative"},"x2":{"datum":62.47},"y":{"datum":1.11,"type":"quantitative"}}},
{"data":{"values":[{"len":0.06}]},"mark":{"type":"text","fontSize":6.5,"baseline":"middle","dy":-6,"color":"#222222"},
"encoding":{"x":{"datum":32.47,"type":"quantitative"},"y":{"datum":1.11,"type":"quantitative"},"text":{"field":"len"}}},
{"data":{"name":"taxa"},"mark":{"type":"text","align":"left","baseline":"middle","fontSize":6.8,"fontStyle":"italic","color":"#111111"},
"encoding":{"x":{"datum":163.5,"type":"quantitative"},"y":{"field":"i","type":"quantitative"},"text":{"field":"sp"}}},
{"data":{"name":"taxa"},"transform":[{"calculate":"163.5 + (556*length(datum.sp) + 278 - 334*length(replace(datum.sp, regexp('[^ijl]','g'), '')) - 278*length(replace(datum.sp, regexp('[^ft .]','g'), '')) - 223*length(replace(datum.sp, regexp('[^r-]','g'), '')) - 56*length(replace(datum.sp, regexp('[^cksvxyz]','g'), '')) + 166*length(replace(datum.sp, regexp('[^wC]','g'), '')) + 277*length(replace(datum.sp, regexp('[^m]','g'), '')) + 111*length(replace(datum.sp, regexp('[^V]','g'), ''))) * 0.0068 / 1.778","as":"sx"}],
"mark":{"type":"text","align":"left","baseline":"middle","fontSize":6.8,"color":"#111111"},
"encoding":{"x":{"field":"sx","type":"quantitative"},"y":{"field":"i","type":"quantitative"},"text":{"field":"st"}}}
]},
{"width":103.5,"height":1066.9,"data":{"name":"taxa"},"transform":[{"filter":"isValid(datum.g)"}],
"encoding":{"y":{"field":"i","type":"ordinal","scale":{"type":"band","paddingInner":0.56,"paddingOuter":0.28},"axis":null}},
"layer":[
{"mark":{"type":"circle","opacity":1,"color":"#1F77C8"},
"encoding":{"x":{"datum":"Genome (Mb)","type":"nominal","scale":{"type":"point","domain":["Genome (Mb)","Genes"],"padding":0.601,"align":0.1416},"axis":{"orient":"top","title":null,"grid":false,"labelFontSize":5,"labelColor":"#222222","labelPadding":9.8,"labelOffset":15,"labelAngle":0}},
"size":{"field":"g","type":"quantitative","scale":{"type":"pow","exponent":2,"domain":[0,110],"range":[0,50]},"legend":null}}},
{"mark":{"type":"circle","opacity":1,"color":"#1E8B3E","size":38},"encoding":{"x":{"datum":"Genes","type":"nominal"}}},
{"mark":{"type":"text","align":"left","baseline":"middle","dx":6.5,"fontSize":8.2,"color":"#111111"},"encoding":{"x":{"datum":"Genome (Mb)","type":"nominal"},"text":{"field":"g","type":"nominal"}}},
{"mark":{"type":"text","align":"left","baseline":"middle","dx":8,"fontSize":8.2,"color":"#111111"},"encoding":{"x":{"datum":"Genes","type":"nominal"},"text":{"field":"n","type":"nominal"}}}
]},
{"width":58.2,"height":1066.9,"data":{"name":"taxa"},"transform":[{"filter":"isValid(datum.g)"}],
"encoding":{"y":{"field":"i","type":"ordinal","scale":{"type":"band","paddingInner":0.56,"paddingOuter":0.28},"axis":null}},
"layer":[
{"mark":{"type":"bar"},"encoding":{"x":{"field":"g","type":"quantitative","scale":{"domain":[0,127.9],"nice":false},"axis":{"orient":"top","format":"d","values":[0,50,100],"labelExpr":"datum.value==100?'':datum.label","title":"Repeat sequences (Mb)","titleX":15.5}},
"color":{"datum":"Repeat","type":"nominal","scale":{"domain":["Non-repeat","Repeat"],"range":["#000000","#A6A6A6"]},"legend":{"orient":"bottom","direction":"vertical","title":null}}}},
{"mark":{"type":"bar"},"encoding":{"x":{"field":"nr","type":"quantitative"},"color":{"datum":"Non-repeat","type":"nominal"}}}
]},
{"width":45.6,"height":1066.9,"data":{"name":"taxa"},"transform":[{"filter":"isValid(datum.g)"}],
"encoding":{"y":{"field":"i","type":"ordinal","scale":{"type":"band","paddingInner":0.56,"paddingOuter":0.28},"axis":null}},
"layer":[
{"mark":{"type":"bar"},"encoding":{"x":{"field":"n","type":"quantitative","scale":{"domain":[0,19913],"nice":false},"axis":{"orient":"top","format":"d","values":[0,10000],"title":"Eggnog annotated genes","titleX":18.3}},
"color":{"datum":"Unannotated","type":"nominal","scale":{"domain":["Annotated","Unannotated"],"range":["#2E7DC4","#BFBFBF"]},"legend":{"orient":"bottom","direction":"vertical","title":null}}}},
{"mark":{"type":"bar"},"encoding":{"x":{"field":"ann","type":"quantitative"},"color":{"datum":"Annotated","type":"nominal"}}}
]},
{"width":60.7,"height":1066.9,"data":{"name":"taxa"},"transform":[{"filter":"isValid(datum.g)"},{"fold":["AA","CBM","CE","GH","GT","PL"],"as":["cz","v"]}],
"mark":{"type":"bar"},
"encoding":{"y":{"field":"i","type":"ordinal","scale":{"type":"band","paddingInner":0.56,"paddingOuter":0.28},"axis":null},
"x":{"field":"v","type":"quantitative","stack":"zero","scale":{"domain":[0,849],"nice":false},"axis":{"orient":"top","format":"d","values":[0,200,400,600],"title":"CAZymes","titleX":23.7}},
"color":{"field":"cz","type":"nominal","scale":{"domain":["AA","CBM","CE","GH","GT","PL"],"range":["#5B9BD5","#ED7D31","#A5A5A5","#C09322","#4472C4","#70AD47"]},"legend":{"orient":"bottom","direction":"horizontal","columns":3,"title":null}}}},
{"width":45,"height":1066.9,"data":{"name":"taxa"},"transform":[{"filter":"isValid(datum.g)"},{"fold":["Effector","Transporter"],"as":["et","v"]}],
"mark":{"type":"bar"},
"encoding":{"y":{"field":"i","type":"ordinal","scale":{"type":"band","paddingInner":0.56,"paddingOuter":0.28},"axis":null},
"x":{"field":"v","type":"quantitative","stack":"zero","scale":{"domain":[0,4592],"nice":false},"axis":{"orient":"top","format":"d","values":[0,750,1500,2250,3000,3750,4500],"labelExpr":"(datum.value==0||datum.value==1500||datum.value==3000)?datum.label:''","title":"Effectors & transporters","titleX":14.5}},
"color":{"field":"et","type":"nominal","scale":{"domain":["Effector","Transporter"],"range":["#ED7D31","#6F6F6F"]},"legend":{"orient":"bottom","direction":"vertical","title":null}}}}
]
}
